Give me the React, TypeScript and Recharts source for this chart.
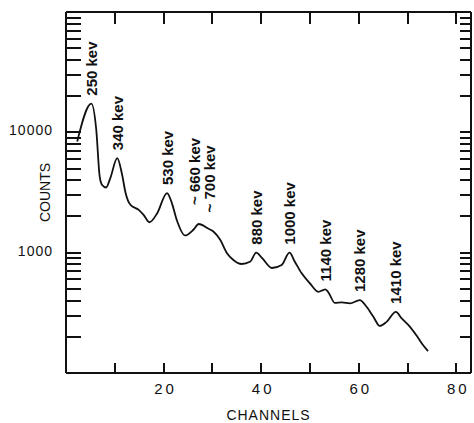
import React from 'react';
import { LineChart, Line, XAxis, YAxis, ReferenceDot } from 'recharts';

// spectrum: channel number vs counts
const channels = [
  2.3, 5.2, 6.2, 6.9, 7.4, 8.2, 9.1, 10.5, 11.5, 12.2, 13.2, 14.9, 15.9, 17.1,
  18.7, 20.7, 21.7, 22.7, 24.4, 26.1, 27.2, 29.2, 30.2, 31.6, 33.0, 34.3, 36.0,
  37.7, 39.0, 40.2, 42.2, 44.2, 45.8, 46.9, 48.3, 50.0, 51.7, 52.7, 53.1, 53.7,
  55.1, 56.5, 58.2, 60.2, 61.6, 63.0, 64.3, 65.7, 67.6, 68.8, 70.5, 71.8, 73.2,
  74.2,
];
const counts = [
  8400, 17300, 10500, 4300, 3650, 3480, 4190, 6100, 4440, 3150, 2500, 2270, 2060,
  1790, 2130, 3130, 2580, 1870, 1390, 1550, 1730, 1580, 1500, 1280, 990, 870, 805,
  840, 1000, 900, 746, 790, 1000, 841, 673, 556, 473, 489, 495, 473, 383, 386, 379,
  404, 355, 293, 246, 266, 322, 284, 242, 206, 170, 152,
];

// peak annotations
const peakNames = [
  '250 kev', '340 kev', '530 kev', '660 kev', '700 kev',
  '880 kev', '1000 kev', '1140 kev', '1280 kev', '1410 kev',
];
const peakChannels = [5.2, 10.5, 20.7, 27.2, 30.2, 39.0, 45.8, 53.1, 60.2, 67.6];
const peakCounts = [17300, 6100, 3130, 1730, 1500, 1000, 1000, 495, 404, 322];
const peakApprox = [false, false, false, true, true, false, false, false, false, false];

const X_MIN = 0;
const X_MAX = 83;
const Y_MIN = 100;
const Y_MAX = 100000;
const xTicks = [10, 20, 30, 40, 50, 60, 70, 80];
const xTickLabels = [20, 40, 60, 80];
const yTicks = [
  100, 200, 300, 400, 500, 600, 700, 800, 900,
  1000, 2000, 3000, 4000, 5000, 6000, 7000, 8000, 9000,
  10000, 20000, 30000, 40000, 50000, 60000, 70000, 80000, 90000, 100000,
];
const yTickLabels = [1000, 10000];

const data = channels.map((c, i) => ({ channel: c, counts: counts[i] }));

const FONT = '"Liberation Sans", Arial, Helvetica, sans-serif';
const INK = '#111';

// short solid tick mark
const Mark = ({ x, y, w, h }: any) => (
  <rect x={Math.round(x)} y={Math.round(y)} width={w} height={h} fill={INK} />
);

// tickSize is 0, so the x/y handed in sit on the axis line itself
const BottomTick = (props: any) => {
  const { x, y, payload } = props;
  if (!xTickLabels.includes(payload.value)) return null;
  return (
    <text x={x + 2} y={y + 15} textAnchor="middle" dominantBaseline="central"
      fontSize={15} letterSpacing={3} fill={INK} fontFamily={FONT}>
      {payload.value}
    </text>
  );
};

const LeftTick = (props: any) => {
  const { x, y, payload } = props;
  return (
    <g>
      <Mark x={x} y={y - 1} w={15} h={2} />
      {yTickLabels.includes(payload.value) && (
        <text x={x - 13} y={y - 2} textAnchor="end" dominantBaseline="central"
          fontSize={14} letterSpacing={1} fill={INK} fontFamily={FONT}>
          {payload.value}
        </text>
      )}
    </g>
  );
};

const NoTick = () => null;

// inward tick on the right, top or bottom frame, placed by a reference dot on that edge
const EdgeMark = (props: any) => {
  const { viewBox, side } = props;
  const cx = viewBox.x + viewBox.width / 2;
  const cy = viewBox.y + viewBox.height / 2;
  if (side === 'right') return <Mark x={cx - 11} y={cy - 1} w={11} h={2} />;
  if (side === 'top') return <Mark x={cx - 1} y={cy} w={2} h={12} />;
  return <Mark x={cx - 1} y={cy - 10} w={2} h={10} />;
};

const XTitle = (props: any) => {
  const vb = props.viewBox;
  return (
    <text x={vb.x + vb.width / 2} y={vb.y + 42} textAnchor="middle" dominantBaseline="central"
      fontSize={14} letterSpacing={1} fill={INK} fontFamily={FONT}>
      CHANNELS
    </text>
  );
};

const YTitle = (props: any) => {
  const vb = props.viewBox;
  const cx = vb.x + 39;
  const cy = vb.y + vb.height / 2;
  return (
    <text x={cx} y={cy} textAnchor="middle" dominantBaseline="central" transform={`rotate(-90, ${cx}, ${cy})`}
      fontSize={14} fill={INK} fontFamily={FONT}>
      COUNTS
    </text>
  );
};

// vertical label just above its peak; approximate ones get a "~" in front
const PeakLabel = (props: any) => {
  const { viewBox, name, approx } = props;
  const cx = viewBox.x + viewBox.width / 2;
  const cy = viewBox.y + viewBox.height / 2;
  const tx = approx ? cx - 4 : cx;
  const ty = cy - (approx ? 19 : 8);
  return (
    <text x={tx} y={ty} textAnchor="start" dominantBaseline="central"
      transform={`rotate(-90, ${tx}, ${ty})`}
      fontSize={15} fontWeight="bold" fill={INK} fontFamily={FONT}>
      {approx ? `~ ${name}` : name}
    </text>
  );
};

const axisLine = { stroke: INK, strokeWidth: 2 };

export default function App() {
  return (
    <div style={{ position: 'absolute', left: 0, top: 0, width: 474, height: 423, background: '#fff' }}>
      <LineChart width={474} height={423} data={data} margin={{ top: 11, right: 2, bottom: 20, left: 6 }}>
        <XAxis xAxisId="bottom" dataKey="channel" type="number" domain={[X_MIN, X_MAX]} ticks={xTicks}
          allowDataOverflow orientation="bottom" height={30} axisLine={axisLine}
          tickLine={false} tickSize={0} tickMargin={0} tick={<BottomTick />} interval={0}
          label={<XTitle />} />
        <XAxis xAxisId="top" dataKey="channel" type="number" domain={[X_MIN, X_MAX]} ticks={xTicks}
          allowDataOverflow orientation="top" height={1} axisLine={axisLine}
          tickLine={false} tickSize={0} tickMargin={0} tick={<NoTick />} interval={0} />
        <YAxis yAxisId="left" scale="log" domain={[Y_MIN, Y_MAX]} ticks={yTicks} allowDataOverflow
          orientation="left" width={60} type="number" axisLine={axisLine}
          tickLine={false} tickSize={0} tickMargin={0} tick={<LeftTick />} interval={0}
          label={<YTitle />} />
        <YAxis yAxisId="right" scale="log" domain={[Y_MIN, Y_MAX]} ticks={yTicks} allowDataOverflow
          orientation="right" width={1} type="number" axisLine={axisLine}
          tickLine={false} tickSize={0} tickMargin={0} tick={<NoTick />} interval={0} />
        {yTicks.map((v) => (
          <ReferenceDot key={`r${v}`} xAxisId="bottom" yAxisId="left" x={X_MAX} y={v} ifOverflow="visible"
            r={1} fill="none" stroke="none" label={<EdgeMark side="right" />} />
        ))}
        {xTicks.map((v) => (
          <ReferenceDot key={`b${v}`} xAxisId="bottom" yAxisId="left" x={v} y={Y_MIN} ifOverflow="visible"
            r={1} fill="none" stroke="none" label={<EdgeMark side="bottom" />} />
        ))}
        {xTicks.map((v) => (
          <ReferenceDot key={`t${v}`} xAxisId="bottom" yAxisId="left" x={v} y={Y_MAX} ifOverflow="visible"
            r={1} fill="none" stroke="none" label={<EdgeMark side="top" />} />
        ))}
        <Line xAxisId="bottom" yAxisId="left" type="monotone" dataKey="counts" stroke={INK}
          strokeWidth={1.8} dot={false} isAnimationActive={false} />
        {peakNames.map((name, i) => (
          <ReferenceDot key={name} xAxisId="bottom" yAxisId="left" x={peakChannels[i]} y={peakCounts[i]}
            r={1} fill="none" stroke="none"
            label={<PeakLabel name={name} approx={peakApprox[i]} />} />
        ))}
      </LineChart>
    </div>
  );
}
